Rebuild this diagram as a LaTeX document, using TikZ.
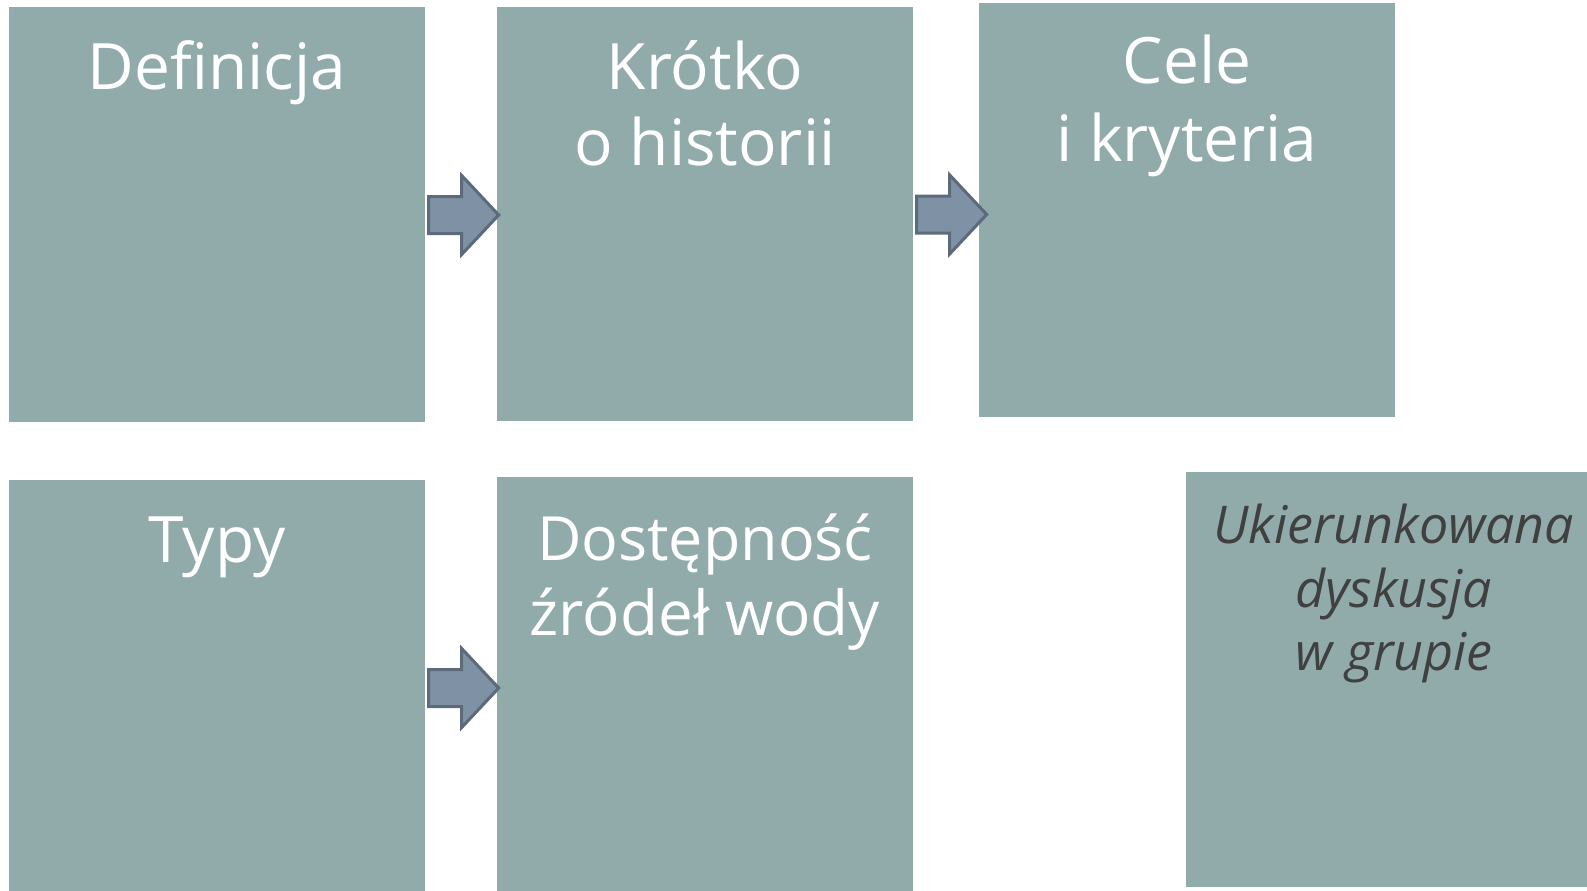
\documentclass[tikz,border=0pt]{standalone}
\usepackage{fontspec}
\setmainfont{Open Sans}
\usetikzlibrary{calc}
\definecolor{boxfill}{RGB}{145,171,171}
\definecolor{arrfill}{RGB}{127,145,165}
\definecolor{arrline}{RGB}{92,106,122}
\definecolor{darktext}{RGB}{64,64,64}
\tikzset{
  box/.style={rectangle, fill=boxfill, draw=none, minimum width=416pt, inner sep=0pt},
  wt/.style={text=white, font=\fontsize{64}{75}\selectfont, anchor=base, inner sep=0pt},
  it/.style={text=darktext, font=\fontsize{52}{63}\selectfont\itshape, anchor=base, inner sep=0pt},
  barrow/.style={fill=arrfill, draw=arrline, line width=3pt, line join=miter}
}
\newcommand{\blockarrow}[1]{%
  \draw[barrow] ($(#1.east)+(3.5,-18)$) -- ++(33,0) -- ++(0,-21) -- ++(37,39.5) -- ++(-37,39.5) -- ++(0,-21) -- ++(-33,0) -- cycle;}
\begin{document}
\begin{tikzpicture}[x=1pt,y=-1pt]
\useasboundingbox (0,0) rectangle (1587,891);
\clip (0,0) rectangle (1587,891);
% boxes
\node[box, minimum height=415pt] (b1) at (217,214.5) {};
\node[box, minimum height=414pt] (b2) at (705,214) {};
\node[box, minimum height=414pt] (b3) at (1187,210) {};
\node[box, minimum height=415pt] (b4) at (217,687.5) {};
\node[box, minimum height=415pt] (b5) at (705,684.5) {};
\node[box, minimum height=415pt] (b6) at (1394,679.5) {};
% texts
\node[wt] (t1) at (217,89) {Definicja};
\node[wt] (t2a) at (705,89) {Krótko};
\node[wt] (t2b) at (705,165) {o historii};
\node[wt] (t3a) at (1187,84) {Cele};
\node[wt] (t3b) at (1187,161) {i kryteria};
\node[wt] (t4) at (217,562) {Typy};
\node[wt, font=\fontsize{61}{75}\selectfont] (t5a) at (705,560) {Dostępność};
\node[wt, font=\fontsize{62}{75}\selectfont] (t5b) at (705,635) {źródeł wody};
\node[it] (t6a) at (1394,543) {Ukierunkowana};
\node[it] (t6b) at (1394,607) {dyskusja};
\node[it] (t6c) at (1394,670) {w grupie};
% arrows
\blockarrow{b1}
\blockarrow{b2}
\blockarrow{b4}
\end{tikzpicture}
\end{document}
